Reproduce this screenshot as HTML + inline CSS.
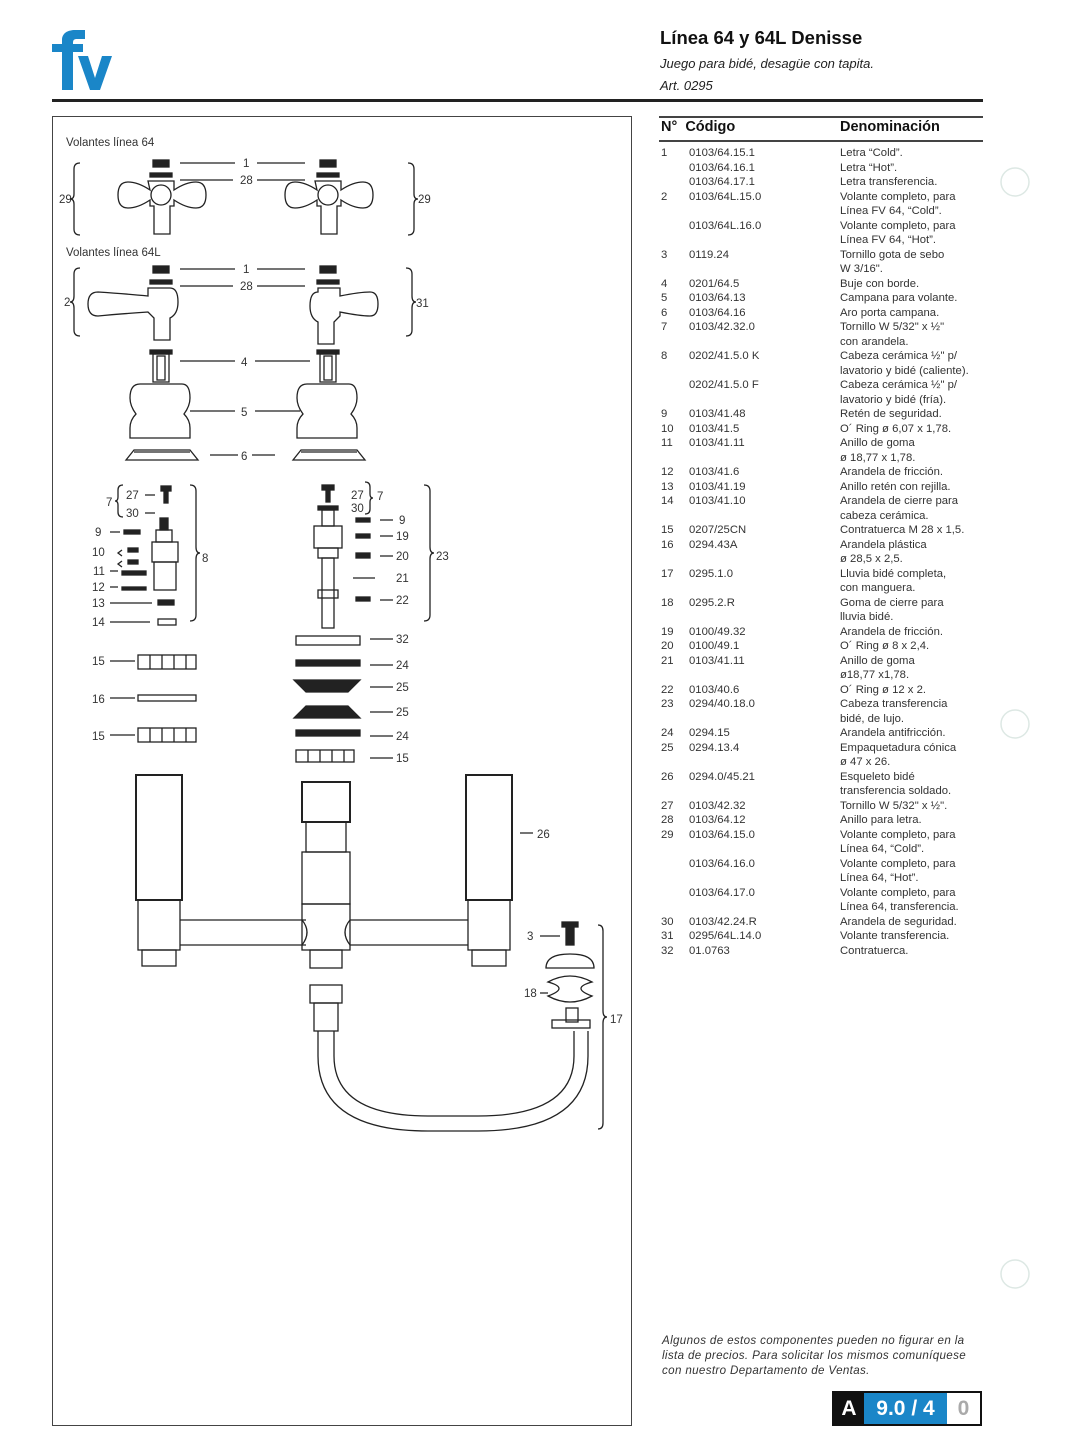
<!DOCTYPE html>
<html><head><meta charset="utf-8"><style>
body{margin:0;background:#fff;width:1080px;height:1451px;position:relative;font-family:"Liberation Sans",sans-serif;color:#222;overflow:hidden}
.t{position:absolute;white-space:nowrap}
#tbl{position:absolute;left:661px;top:146px;font-size:11.3px;line-height:14.5px;color:#333}
#tbl div{position:relative;height:14.5px}
#tbl span{position:absolute;white-space:nowrap}
#tbl .a{left:0}#tbl .b{left:28px}#tbl .c{left:179px}
</style></head><body>
<svg style="position:absolute;left:50px;top:30px" width="62" height="62" viewBox="0 0 62 62">
<path d="M12 60V22H2V14h10V10C12 3 18 0 25 0h10v9h-8c-3 0-4 1-4 4v1h10v8H23v38z" fill="#1a86c8"/>
<path d="M28 26h10l7 22 7-22h10L50 60H40z" fill="#1a86c8"/>
</svg>
<div class="t" style="left:660px;top:27px;font-size:18.5px;font-weight:bold;color:#111">Línea 64 y 64L Denisse</div>
<div class="t" style="left:660px;top:56px;font-size:13px;font-style:italic">Juego para bidé, desagüe con tapita.</div>
<div class="t" style="left:660px;top:78px;font-size:13px;font-style:italic">Art. 0295</div>
<div style="position:absolute;left:52px;top:99px;width:931px;height:3px;background:#222"></div>
<div style="position:absolute;left:52px;top:116px;width:578px;height:1308px;border:1.5px solid #444"></div>
<div style="position:absolute;left:659px;top:116px;width:324px;height:2px;background:#444"></div>
<div class="t" style="left:661px;top:119px;font-size:14.5px;font-weight:bold;color:#111">N°&nbsp; Código</div>
<div class="t" style="left:840px;top:119px;font-size:14.5px;font-weight:bold;color:#111">Denominación</div>
<div style="position:absolute;left:659px;top:140px;width:324px;height:2px;background:#444"></div>
<div id="tbl">
<div><span class="a">1</span><span class="b">0103/64.15.1</span><span class="c">Letra “Cold”.</span></div>
<div><span class="b">0103/64.16.1</span><span class="c">Letra “Hot”.</span></div>
<div><span class="b">0103/64.17.1</span><span class="c">Letra transferencia.</span></div>
<div><span class="a">2</span><span class="b">0103/64L.15.0</span><span class="c">Volante completo, para</span></div>
<div><span class="c">Línea FV 64, “Cold”.</span></div>
<div><span class="b">0103/64L.16.0</span><span class="c">Volante completo, para</span></div>
<div><span class="c">Línea FV 64, “Hot”.</span></div>
<div><span class="a">3</span><span class="b">0119.24</span><span class="c">Tornillo gota de sebo</span></div>
<div><span class="c">W 3/16".</span></div>
<div><span class="a">4</span><span class="b">0201/64.5</span><span class="c">Buje con borde.</span></div>
<div><span class="a">5</span><span class="b">0103/64.13</span><span class="c">Campana para volante.</span></div>
<div><span class="a">6</span><span class="b">0103/64.16</span><span class="c">Aro porta campana.</span></div>
<div><span class="a">7</span><span class="b">0103/42.32.0</span><span class="c">Tornillo W 5/32" x ½"</span></div>
<div><span class="c">con arandela.</span></div>
<div><span class="a">8</span><span class="b">0202/41.5.0 K</span><span class="c">Cabeza cerámica ½" p/</span></div>
<div><span class="c">lavatorio y bidé (caliente).</span></div>
<div><span class="b">0202/41.5.0 F</span><span class="c">Cabeza cerámica ½" p/</span></div>
<div><span class="c">lavatorio y bidé (fría).</span></div>
<div><span class="a">9</span><span class="b">0103/41.48</span><span class="c">Retén de seguridad.</span></div>
<div><span class="a">10</span><span class="b">0103/41.5</span><span class="c">O´ Ring ø 6,07 x 1,78.</span></div>
<div><span class="a">11</span><span class="b">0103/41.11</span><span class="c">Anillo de goma</span></div>
<div><span class="c">ø 18,77 x 1,78.</span></div>
<div><span class="a">12</span><span class="b">0103/41.6</span><span class="c">Arandela de fricción.</span></div>
<div><span class="a">13</span><span class="b">0103/41.19</span><span class="c">Anillo retén con rejilla.</span></div>
<div><span class="a">14</span><span class="b">0103/41.10</span><span class="c">Arandela de cierre para</span></div>
<div><span class="c">cabeza cerámica.</span></div>
<div><span class="a">15</span><span class="b">0207/25CN</span><span class="c">Contratuerca M 28 x 1,5.</span></div>
<div><span class="a">16</span><span class="b">0294.43A</span><span class="c">Arandela plástica</span></div>
<div><span class="c">ø 28,5 x 2,5.</span></div>
<div><span class="a">17</span><span class="b">0295.1.0</span><span class="c">Lluvia bidé completa,</span></div>
<div><span class="c">con manguera.</span></div>
<div><span class="a">18</span><span class="b">0295.2.R</span><span class="c">Goma de cierre para</span></div>
<div><span class="c">lluvia bidé.</span></div>
<div><span class="a">19</span><span class="b">0100/49.32</span><span class="c">Arandela de fricción.</span></div>
<div><span class="a">20</span><span class="b">0100/49.1</span><span class="c">O´ Ring ø 8 x 2,4.</span></div>
<div><span class="a">21</span><span class="b">0103/41.11</span><span class="c">Anillo de goma</span></div>
<div><span class="c">ø18,77 x1,78.</span></div>
<div><span class="a">22</span><span class="b">0103/40.6</span><span class="c">O´ Ring ø 12 x 2.</span></div>
<div><span class="a">23</span><span class="b">0294/40.18.0</span><span class="c">Cabeza transferencia</span></div>
<div><span class="c">bidé, de lujo.</span></div>
<div><span class="a">24</span><span class="b">0294.15</span><span class="c">Arandela antifricción.</span></div>
<div><span class="a">25</span><span class="b">0294.13.4</span><span class="c">Empaquetadura cónica</span></div>
<div><span class="c">ø 47 x 26.</span></div>
<div><span class="a">26</span><span class="b">0294.0/45.21</span><span class="c">Esqueleto bidé</span></div>
<div><span class="c">transferencia soldado.</span></div>
<div><span class="a">27</span><span class="b">0103/42.32</span><span class="c">Tornillo W 5/32" x ½".</span></div>
<div><span class="a">28</span><span class="b">0103/64.12</span><span class="c">Anillo para letra.</span></div>
<div><span class="a">29</span><span class="b">0103/64.15.0</span><span class="c">Volante completo, para</span></div>
<div><span class="c">Línea 64, “Cold”.</span></div>
<div><span class="b">0103/64.16.0</span><span class="c">Volante completo, para</span></div>
<div><span class="c">Línea 64, “Hot”.</span></div>
<div><span class="b">0103/64.17.0</span><span class="c">Volante completo, para</span></div>
<div><span class="c">Línea 64, transferencia.</span></div>
<div><span class="a">30</span><span class="b">0103/42.24.R</span><span class="c">Arandela de seguridad.</span></div>
<div><span class="a">31</span><span class="b">0295/64L.14.0</span><span class="c">Volante transferencia.</span></div>
<div><span class="a">32</span><span class="b">01.0763</span><span class="c">Contratuerca.</span></div>
</div>
<div class="t" style="left:662px;top:1333px;font-size:11.6px;line-height:15px;font-style:italic;color:#333;letter-spacing:0.35px">Algunos de estos componentes pueden no figurar en la<br>lista de precios. Para solicitar los mismos comuníquese<br>con nuestro Departamento de Ventas.</div>
<div style="position:absolute;left:832px;top:1391px;width:150px;height:35px;border:2px solid #111;box-sizing:border-box;display:flex;font-size:21px;font-weight:bold">
<div style="width:30px;background:#111;color:#fff;text-align:center;line-height:31px">A</div>
<div style="width:83px;background:#1a86c8;color:#fff;text-align:center;line-height:31px">9.0 / 4</div>
<div style="flex:1;color:#aaa;text-align:center;line-height:31px">0</div></div>
<svg style="position:absolute;left:0;top:0" width="1080" height="1451">
<g fill="none" stroke="#dde8e4" stroke-width="1.5"><circle cx="1015" cy="182" r="14"/><circle cx="1015" cy="724" r="14"/><circle cx="1015" cy="1274" r="14"/></g>
<g font-family="Liberation Sans" font-size="11.5" fill="#333">
<text x="66" y="146">Volantes línea 64</text><text x="66" y="256">Volantes línea 64L</text>
<text x="243" y="167">1</text><text x="240" y="184">28</text><text x="243" y="273">1</text><text x="240" y="290">28</text>
<text x="59" y="203">29</text><text x="418" y="203">29</text><text x="64" y="306">2</text><text x="416" y="307">31</text>
<text x="241" y="366">4</text><text x="241" y="416">5</text><text x="241" y="460">6</text>
<text x="106" y="506">7</text><text x="126" y="499">27</text><text x="126" y="517">30</text>
<text x="95" y="536">9</text><text x="92" y="556">10</text><text x="93" y="575">11</text><text x="92" y="591">12</text><text x="92" y="607">13</text><text x="92" y="626">14</text><text x="202" y="562">8</text>
<text x="351" y="499">27</text><text x="351" y="512">30</text><text x="377" y="500">7</text>
<text x="399" y="524">9</text><text x="396" y="540">19</text><text x="396" y="560">20</text><text x="396" y="582">21</text><text x="396" y="604">22</text><text x="436" y="560">23</text>
<text x="396" y="643">32</text><text x="396" y="669">24</text><text x="396" y="691">25</text><text x="396" y="716">25</text><text x="396" y="740">24</text><text x="396" y="762">15</text>
<text x="92" y="665">15</text><text x="92" y="703">16</text><text x="92" y="740">15</text>
<text x="537" y="838">26</text><text x="527" y="940">3</text><text x="524" y="997">18</text><text x="610" y="1023">17</text>
</g>
<g stroke="#222" stroke-width="1.3" fill="none">
<path d="M180 163H235M257 163H305M180 180H233M257 180H305M180 269H235M257 269H305M180 286H233M257 286H305M180 361H235M255 361H310M190 411H235M255 411H300M210 455H238M252 455H275"/>
<path d="M80 163q-6 0-6 6v25q0 5-4 5q4 0 4 5v25q0 6 6 6M80 268q-6 0-6 6v22q0 6-4 6q4 0 4 6v22q0 6 6 6M408 163q6 0 6 6v25q0 5 4 5q-4 0-4 5v25q0 6-6 6M406 268q6 0 6 6v22q0 6 4 6q-4 0-4 6v22q0 6-6 6"/>
<path d="M123 485q-5 0-5 5v7q0 4-3 4q3 0 3 4v7q0 5 5 5M190 485q6 0 6 6v56q0 6 4 6q-4 0-4 6v56q0 6-6 6M365 482q5 0 5 5v7q0 4 3 4q-3 0-3 4v7q0 5-5 5M424 485q6 0 6 6v56q0 6 4 6q-4 0-4 6v56q0 6-6 6M598 925q5 0 5 6v80q0 6 4 6q-4 0-4 6v100q0 6-5 6"/>
<path d="M145 495H155M145 513H155M110 532H120M110 571H118M110 587H118M110 603H152M110 622H150M380 520H393M380 536H393M380 556H393M353 578H375M380 600H393M370 639H393M370 665H393M370 687H393M370 712H393M370 736H393M370 758H393M110 661H135M110 698H135M110 735H135M520 833H533M540 936H560M540 993H548"/>
<g id="h1"><rect x="153" y="160" width="16" height="7" fill="#222"/><rect x="150" y="173" width="22" height="4" fill="#222"/>
<path d="M148 181h26v9q12-8 22-8q10 0 10 13q0 13-10 13q-10 0-22-8v6h-4v28h-16v-28h-4v-6q-12 8-22 8q-10 0-10-13q0-13 10-13q10 0 22 8z"/><circle cx="161" cy="195" r="10"/></g>
<use href="#h1" x="167"/>
<rect x="153" y="266" width="16" height="7" fill="#222"/><rect x="150" y="280" width="22" height="4" fill="#222"/>
<path d="M148 288h22q8 0 8 14q0 12-8 16v22h-16v-22l-6-6q-30 2-50 4q-10 0-10-12q0-12 10-12q30 2 50 4z"/>
<rect x="320" y="266" width="16" height="7" fill="#222"/><rect x="317" y="280" width="22" height="4" fill="#222"/>
<path d="M318 288h22v8q20-4 30-4q8 0 8 12q0 12-8 12q-10 0-30-4v4l-6 6v22h-16v-22q-8-4-8-16q0-14 8-14z"/>
<g id="b1"><rect x="150" y="350" width="22" height="4" fill="#222"/><rect x="153" y="354" width="16" height="28"/><rect x="157" y="356" width="8" height="24"/>
<path d="M140 384h42q8 0 8 14q0 8-6 16q6 6 6 14v10h-60v-10q0-8 6-14q-6-8-6-16q0-14 10-14z"/>
<path d="M126 460l8-10h56l8 10z M134 452h56"/></g>
<use href="#b1" x="167"/>
<rect x="161" y="486" width="10" height="5" fill="#222"/><rect x="164" y="491" width="4" height="12" fill="#222"/>
<rect x="124" y="530" width="16" height="4" fill="#222"/><rect x="160" y="518" width="8" height="12" fill="#222"/>
<rect x="156" y="530" width="16" height="12"/><rect x="152" y="542" width="26" height="20"/><rect x="154" y="562" width="22" height="28"/>
<path d="M122 550l-4 3 4 3M122 561l-4 3 4 3" />
<rect x="128" y="548" width="10" height="4" fill="#222"/><rect x="128" y="560" width="10" height="4" fill="#222"/>
<rect x="122" y="571" width="24" height="4" fill="#222"/><rect x="122" y="587" width="24" height="3" fill="#222"/>
<rect x="158" y="600" width="16" height="5" fill="#222"/><rect x="158" y="619" width="18" height="6"/>
<rect x="322" y="485" width="12" height="5" fill="#222"/><rect x="326" y="490" width="4" height="12" fill="#222"/>
<rect x="318" y="506" width="20" height="4" fill="#222"/><rect x="322" y="510" width="12" height="16"/>
<rect x="314" y="526" width="28" height="22"/><rect x="318" y="548" width="20" height="10"/>
<rect x="322" y="558" width="12" height="70"/><rect x="318" y="590" width="20" height="8"/>
<rect x="356" y="518" width="14" height="4" fill="#222"/><rect x="356" y="534" width="14" height="4" fill="#222"/><rect x="356" y="553" width="14" height="5" fill="#222"/><rect x="356" y="597" width="14" height="4" fill="#222"/>
<rect x="296" y="636" width="64" height="9"/><rect x="296" y="660" width="64" height="6" fill="#222"/>
<path d="M294 680h66l-12 12h-42z" fill="#222"/><path d="M306 706h42l12 12h-66z" fill="#222"/>
<rect x="296" y="730" width="64" height="6" fill="#222"/><rect x="296" y="750" width="58" height="12"/>
<rect x="138" y="655" width="58" height="14"/><rect x="138" y="695" width="58" height="6"/><rect x="138" y="728" width="58" height="14"/>
<path d="M150 655v14M162 655v14M174 655v14M186 655v14M150 728v14M162 728v14M174 728v14M186 728v14M308 750v12M320 750v12M332 750v12M344 750v12"/>
<rect x="136" y="775" width="46" height="125" stroke-width="2"/><rect x="466" y="775" width="46" height="125" stroke-width="2"/>
<rect x="138" y="900" width="42" height="50"/><rect x="468" y="900" width="42" height="50"/>
<rect x="142" y="950" width="34" height="16"/><rect x="472" y="950" width="34" height="16"/>
<path d="M180 920h126M180 945h126M350 920h118M350 945h118"/>
<rect x="302" y="782" width="48" height="40" stroke-width="2"/><rect x="306" y="822" width="40" height="30"/><rect x="302" y="852" width="48" height="52"/>
<rect x="302" y="904" width="48" height="46"/><rect x="310" y="950" width="32" height="18"/>
<path d="M302 920q10 12 0 25M350 920q-10 12 0 25"/>
<rect x="310" y="985" width="32" height="18"/><rect x="314" y="1003" width="24" height="28"/>
<path d="M318 1031v25q0 75 110 75h50q110 0 110-75v-25"/><path d="M334 1031v25q0 60 94 60h50q96 0 96-60v-25"/>
<rect x="566" y="925" width="8" height="20" fill="#222"/><rect x="562" y="922" width="16" height="5" fill="#222"/>
<path d="M546 968q0-14 24-14q24 0 24 14z"/><path d="M548 982q22-12 44 0q-22 6 0 14q-22 12-44 0q22-8 0-14z"/>
<rect x="566" y="1008" width="12" height="14"/><rect x="552" y="1020" width="38" height="8"/>
</g>
</svg>
</body></html>
